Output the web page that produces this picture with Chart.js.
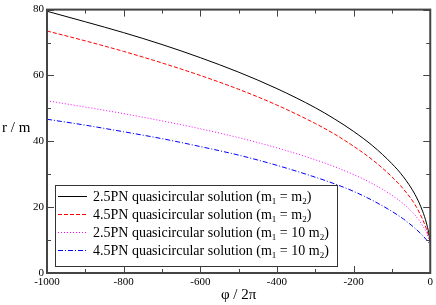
<!DOCTYPE html>
<html>
<head>
<meta charset="utf-8">
<script src="https://cdn.jsdelivr.net/npm/chart.js@4/dist/chart.umd.min.js"></script>
<style>
  html, body { margin: 0; padding: 0; background: #fff; }
</style>
</head>
<body>
<canvas id="chart" width="436" height="305"></canvas>
<script>
// values
const phi = [-1000, -900, -800, -700, -600, -500, -400, -300, -250, -200, -150, -100, -70, -40, -20, -10, -4, -1, 0];
const r25Equal = [79.5, 76.3, 73.0, 69.4, 65.4, 61.0, 56.0, 50.2, 46.8, 43.0, 38.6, 33.2, 29.2, 23.9, 18.8, 15.2, 12.2, 10.2, 9.3];
const r45Equal = [73.5, 70.5, 67.3, 63.8, 60.0, 55.8, 51.0, 45.4, 42.2, 38.5, 34.3, 29.2, 25.5, 20.8, 16.3, 13.4, 11.2, 9.8, 9.2];
const r25Ten = [52.3, 50.4, 48.4, 46.2, 43.8, 41.1, 38.0, 34.4, 32.3, 29.9, 27.1, 23.6, 21.0, 17.6, 14.4, 12.3, 10.5, 9.2, 8.6];
const r45Ten = [46.7, 44.9, 42.9, 40.8, 38.4, 35.8, 32.7, 29.1, 27.1, 24.8, 22.0, 18.7, 16.4, 13.6, 11.4, 10.1, 9.2, 8.6, 8.3];
const seriesLabels = [
  '2.5PN quasicircular solution (m_1 = m_2)',
  '4.5PN quasicircular solution (m_1 = m_2)',
  '2.5PN quasicircular solution (m_1 = 10 m_2)',
  '4.5PN quasicircular solution (m_1 = 10 m_2)'
];
const xTitle = 'φ / 2π';
const yTitle = 'r / m';

const SERIF = "'Liberation Serif', 'Times New Roman', serif";

const styles = [
  { color: '#000000', dash: [] },
  { color: '#ff0000', dash: [4, 2] },
  { color: '#ff00ff', dash: [1, 2] },
  { color: '#0000ff', dash: [5, 2, 1, 2] }
];

const allSeries = [r25Equal, r45Equal, r25Ten, r45Ten];
const datasets = allSeries.map((vals, i) => ({
  label: seriesLabels[i],
  data: phi.map((p, j) => ({ x: p, y: vals[j] })),
  borderColor: styles[i].color,
  borderDash: styles[i].dash,
  borderWidth: 1,
  pointRadius: 0,
  fill: false,
  cubicInterpolationMode: 'monotone'
}));

// draws the frame, inward ticks, axis titles and the boxed legend
const decorations = {
  id: 'decorations',
  afterDraw(chart) {
    const ctx = chart.ctx;
    const a = chart.chartArea;
    const xs = chart.scales.x, ys = chart.scales.y;
    ctx.save();

    // ticks
    ctx.strokeStyle = '#444';
    ctx.lineWidth = 1;
    for (let v = -1000; v <= 0; v += 100) {
      const px = Math.round(xs.getPixelForValue(v)) + 0.5;
      const len = v % 200 === 0 ? 7 : 4;
      ctx.beginPath();
      ctx.moveTo(px, a.bottom); ctx.lineTo(px, a.bottom - len);
      ctx.moveTo(px, a.top); ctx.lineTo(px, a.top + len);
      ctx.stroke();
    }
    for (let v = 0; v <= 80; v += 10) {
      const py = Math.round(ys.getPixelForValue(v)) + 0.5;
      const len = v % 20 === 0 ? 7 : 4;
      ctx.beginPath();
      ctx.moveTo(a.left, py); ctx.lineTo(a.left + len, py);
      ctx.moveTo(a.right, py); ctx.lineTo(a.right - len, py);
      ctx.stroke();
    }

    // frame
    ctx.strokeStyle = '#444';
    ctx.lineWidth = 2;
    ctx.strokeRect(a.left, a.top, a.right - a.left, a.bottom - a.top);

    // axis titles
    ctx.fillStyle = '#000';
    ctx.font = '15px ' + SERIF;
    ctx.textAlign = 'left';
    ctx.textBaseline = 'alphabetic';
    ctx.fillText(yTitle, 2, 132);
    ctx.textAlign = 'center';
    ctx.fillText(xTitle, (a.left + a.right) / 2, 299);

    // legend
    const bx = 55, by = 185, bw = 282, bh = 81;
    ctx.fillStyle = '#fff';
    ctx.fillRect(bx, by, bw, bh);
    ctx.strokeStyle = '#333';
    ctx.lineWidth = 1;
    ctx.strokeRect(bx + 0.5, by + 0.5, bw, bh);
    ctx.textAlign = 'left';
    seriesLabels.forEach((lab, i) => {
      const cy = by + 11 + i * 18;
      ctx.strokeStyle = styles[i].color;
      ctx.setLineDash(styles[i].dash);
      ctx.beginPath();
      ctx.moveTo(bx + 3, cy + 0.5); ctx.lineTo(bx + 32, cy + 0.5);
      ctx.stroke();
      ctx.setLineDash([]);
      ctx.fillStyle = '#000';
      let tx = bx + 38;
      const parts = lab.split(/_(\d)/);
      parts.forEach((p, k) => {
        if (k % 2 === 1) {
          ctx.font = '9px ' + SERIF;
          ctx.fillText(p, tx, cy + 8);
        } else {
          ctx.font = '14px ' + SERIF;
          ctx.fillText(p, tx, cy + 5);
        }
        tx += ctx.measureText(p).width;
      });
    });
    ctx.restore();
  }
};

const tickFont = { family: SERIF, size: 11 };

new Chart(document.getElementById('chart'), {
  type: 'line',
  data: { datasets: datasets },
  options: {
    responsive: false,
    animation: false,
    layout: { padding: { top: 5, right: 4, left: 0, bottom: 0 } },
    plugins: { legend: { display: false }, tooltip: { enabled: false } },
    scales: {
      x: {
        type: 'linear', min: -1000, max: 0,
        ticks: { stepSize: 200, font: tickFont, color: '#000', padding: 3, maxRotation: 0,
                 callback: v => String(v) },
        grid: { display: false, drawTicks: false },
        border: { display: false },
        afterFit(s) { s.height = 32; }
      },
      y: {
        type: 'linear', min: 0, max: 80,
        ticks: { stepSize: 20, font: tickFont, color: '#000', padding: 3,
                 callback: v => String(v) },
        grid: { display: false, drawTicks: false },
        border: { display: false },
        afterFit(s) { s.width = 47; }
      }
    }
  },
  plugins: [decorations]
});
</script>
</body>
</html>
